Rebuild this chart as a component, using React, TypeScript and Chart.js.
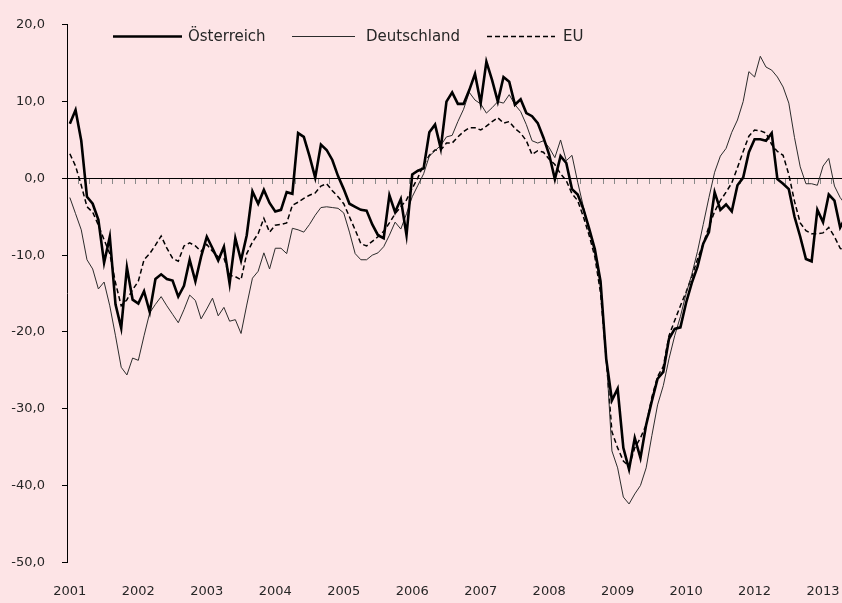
import { useEffect, useRef } from 'react';
import { Chart, registerables } from 'chart.js';

Chart.register(...registerables);

// ---- data (monthly, from January 2001) ----
const yearLabels = ['2001', '2002', '2003', '2004', '2005', '2006', '2007', '2008', '2009', '2010', '2012', '2013'];

const seriesNames = ['Österreich', 'Deutschland', 'EU'];

const oesterreich = [
  7.1, 8.9, 4.9, -2.4, -3.3, -5.4, -11.0, -7.6, -16.4, -19.5,
  -11.6, -15.8, -16.3, -14.7, -17.4, -13.1, -12.5, -13.1, -13.3, -15.4,
  -14.0, -10.6, -13.4, -10.2, -7.6, -9.1, -10.7, -8.9, -13.7, -7.8,
  -10.7, -7.4, -1.7, -3.3, -1.5, -3.2, -4.3, -4.1, -1.8, -2.0,
  5.9, 5.4, 2.9, 0.1, 4.4, 3.7, 2.4, 0.3, -1.4, -3.3,
  -3.7, -4.1, -4.2, -6.0, -7.4, -7.8, -2.2, -4.4, -2.7, -7.4,
  0.5, 1.0, 1.3, 6.0, 7.0, 3.9, 10.0, 11.2, 9.7, 9.7,
  11.5, 13.6, 9.8, 15.2, 12.8, 10.0, 13.2, 12.6, 9.6, 10.3,
  8.5, 8.1, 7.2, 5.3, 3.1, -0.1, 2.9, 2.0, -1.4, -2.1,
  -4.0, -6.5, -9.2, -13.4, -23.5, -28.9, -27.4, -35.1, -37.9, -33.8,
  -36.4, -32.1, -29.0, -26.1, -25.2, -20.9, -19.6, -19.4, -16.2, -13.6,
  -11.5, -8.5, -7.0, -1.8, -4.1, -3.4, -4.3, -0.9, 0.1, 3.4,
  5.1, 5.1, 4.9, 5.9, -0.1, -0.7, -1.4, -5.0, -7.6, -10.5,
  -10.8, -4.1, -5.7, -2.1, -2.9, -6.4, -5.0,
];

const deutschland = [
  -2.5, -4.6, -6.7, -10.6, -11.8, -14.4, -13.5, -16.6, -20.5, -24.6,
  -25.6, -23.4, -23.7, -20.5, -17.5, -16.4, -15.4, -16.6, -17.7, -18.8,
  -17.1, -15.2, -15.9, -18.3, -17.0, -15.6, -17.9, -16.8, -18.6, -18.4,
  -20.2, -16.5, -13.0, -12.1, -9.7, -11.8, -9.1, -9.1, -9.8, -6.5,
  -6.7, -7.0, -6.0, -4.8, -3.8, -3.7, -3.8, -3.9, -4.5, -7.0,
  -9.8, -10.6, -10.6, -10.0, -9.7, -8.9, -7.4, -5.7, -6.6, -4.6,
  -2.4, -0.9, 0.6, 2.9, 3.6, 4.3, 5.4, 5.6, 7.4, 9.0,
  11.2, 10.2, 9.7, 8.5, 9.2, 10.0, 9.8, 10.9, 9.6, 8.7,
  7.0, 4.9, 4.6, 4.9, 4.0, 2.7, 5.0, 2.3, 3.0, -0.5,
  -3.7, -6.7, -9.8, -14.0, -23.0, -35.5, -37.7, -41.5, -42.4, -41.1,
  -40.0, -37.7, -33.5, -29.5, -27.0, -23.5, -20.5, -18.0, -15.0, -12.5,
  -9.5, -6.0, -2.5, 0.8, 2.9, 3.9, 6.0, 7.6, 10.0, 13.9,
  13.2, 15.9, 14.5, 14.1, 13.2, 11.9, 9.8, 5.3, 1.5, -0.7,
  -0.7, -0.9, 1.6, 2.6, -1.0, -2.5, -3.5,
];

const eu = [
  3.2, 1.6, -0.9, -3.7, -4.4, -6.1, -8.0, -9.8, -13.6, -16.6,
  -15.8, -14.5, -13.4, -10.6, -9.8, -8.7, -7.5, -9.1, -10.4, -10.8,
  -8.8, -8.4, -8.8, -9.5, -8.6, -9.5, -10.2, -10.4, -12.6, -12.8,
  -13.2, -9.8, -8.3, -7.2, -5.2, -7.0, -6.1, -6.0, -5.8, -3.5,
  -3.1, -2.6, -2.2, -1.9, -1.0, -0.7, -1.6, -2.4, -3.3, -5.0,
  -6.7, -8.5, -8.8, -8.2, -7.6, -6.9, -5.8, -4.6, -3.7, -2.8,
  -1.3, 0.1, 1.8, 3.0, 3.7, 3.7, 4.6, 4.6, 5.4, 6.1,
  6.6, 6.6, 6.3, 6.8, 7.4, 7.9, 7.2, 7.4, 6.5, 5.9,
  4.9, 3.1, 3.6, 3.4, 2.5, 1.8, 0.6, -0.3, -2.0, -2.9,
  -5.0, -7.4, -10.2, -14.9, -23.5, -33.0, -35.1, -36.8, -37.5, -35.1,
  -33.8, -32.1, -28.5, -25.8, -24.5, -20.5, -18.5, -16.6, -14.8, -12.8,
  -10.5, -8.5, -6.3, -4.3, -2.9, -1.8, -0.6, 1.4, 3.5, 5.5,
  6.3, 6.2, 5.9, 4.4, 3.5, 3.0, 0.5, -3.0, -5.8, -6.8,
  -7.2, -7.2, -7.1, -6.4, -7.6, -9.1, -9.6,
];

const yMin = -50;
const yMax = 20;
const yStep = 10;

// ---- styling ----
const BG = '#FDE4E6';
const TEXT = '#262626';
const FONT = 'DejaVu Sans';
const X_MIN = -0.5;
const X_MAX = 135.32;

const legendPlugin = {
  id: 'inlineLegend',
  afterDraw(chart: any) {
    const ctx = chart.ctx as CanvasRenderingContext2D;
    const layout = [
      { x1: 113, x2: 182, tx: 188 },
      { x1: 292, x2: 355, tx: 366 },
      { x1: 487, x2: 555, tx: 563 },
    ];
    const y = 36.5;
    ctx.save();
    chart.data.datasets.forEach((ds: any, k: number) => {
      const p = layout[k];
      ctx.beginPath();
      ctx.setLineDash(ds.borderDash || []);
      ctx.lineWidth = ds.borderWidth;
      ctx.strokeStyle = ds.borderColor;
      ctx.moveTo(p.x1, y);
      ctx.lineTo(p.x2, y);
      ctx.stroke();
      ctx.setLineDash([]);
      ctx.fillStyle = TEXT;
      ctx.font = `15px "${FONT}"`;
      ctx.textAlign = 'left';
      ctx.textBaseline = 'middle';
      ctx.fillText(ds.label, p.tx, y + 0.5);
    });
    ctx.restore();
  },
};

export default function App() {
  const ref = useRef<HTMLCanvasElement>(null);

  useEffect(() => {
    document.body.style.margin = '0';
    document.body.style.background = BG;
    const toPoints = (arr: number[]) => arr.map((v, i) => ({ x: i, y: v }));

    const chart = new Chart(ref.current as HTMLCanvasElement, {
      type: 'line',
      data: {
        datasets: [
          {
            label: seriesNames[0],
            data: toPoints(oesterreich),
            borderColor: '#000000',
            borderWidth: 2.6,
            borderDash: [],
            xAxisID: 'x',
            yAxisID: 'y',
          },
          {
            label: seriesNames[1],
            data: toPoints(deutschland),
            borderColor: '#2b2b2b',
            borderWidth: 1,
            borderDash: [],
            xAxisID: 'x',
            yAxisID: 'y',
          },
          {
            label: seriesNames[2],
            data: toPoints(eu),
            borderColor: '#000000',
            borderWidth: 1.5,
            borderDash: [5, 3],
            xAxisID: 'x',
            yAxisID: 'y',
          },
        ],
      },
      options: {
        animation: false,
        responsive: false,
        devicePixelRatio: 1,
        layout: { padding: { top: 19, right: 0, bottom: 0, left: 0 } },
        elements: {
          point: { radius: 0, hoverRadius: 0 },
          line: { tension: 0, borderJoinStyle: 'miter', borderCapStyle: 'butt' },
        },
        plugins: {
          legend: { display: false },
          tooltip: { enabled: false },
        },
        events: [],
        scales: {
          x: {
            type: 'linear',
            position: 'bottom',
            min: X_MIN,
            max: X_MAX,
            grid: { display: false, drawTicks: false },
            border: { display: false },
            afterBuildTicks: (axis: any) => {
              axis.ticks = yearLabels.map((_, k) => ({ value: k * 12 }));
            },
            afterFit: (axis: any) => {
              axis.height = 40.7;
              axis.paddingLeft = 0;
              axis.paddingRight = 0;
            },
            ticks: {
              autoSkip: false,
              maxRotation: 0,
              minRotation: 0,
              padding: 22,
              color: TEXT,
              font: { family: FONT, size: 13 },
              callback: (v: any) => yearLabels[Math.round(Number(v) / 12)] ?? '',
            },
          },
          x0: {
            type: 'linear',
            axis: 'x',
            position: { y: 0 },
            min: X_MIN,
            max: X_MAX,
            grid: { drawOnChartArea: false, drawTicks: true, tickLength: 5, color: '#8a8a8a', lineWidth: 1 },
            border: { display: true, color: '#000000', width: 1 },
            ticks: { display: false },
            afterBuildTicks: (axis: any) => {
              const t: { value: number }[] = [];
              for (let v = X_MIN; v <= X_MAX; v += 2) t.push({ value: v });
              axis.ticks = t;
            },
          },
          y: {
            type: 'linear',
            position: 'left',
            min: yMin,
            max: yMax,
            grid: { drawOnChartArea: false, drawTicks: true, tickLength: 5, color: '#000000', lineWidth: 1 },
            border: { display: true, color: '#000000', width: 1 },
            afterFit: (axis: any) => {
              axis.width = 67;
            },
            ticks: {
              stepSize: yStep,
              padding: 17,
              color: TEXT,
              font: { family: FONT, size: 13 },
              callback: (v: any) => Number(v).toFixed(1).replace('.', ','),
            },
          },
        },
      } as any,
      plugins: [legendPlugin],
    });

    return () => chart.destroy();
  }, []);

  return (
    <div style={{ width: 842, height: 603, background: BG }}>
      <canvas ref={ref} width={842} height={603} style={{ display: 'block' }} />
    </div>
  );
}
